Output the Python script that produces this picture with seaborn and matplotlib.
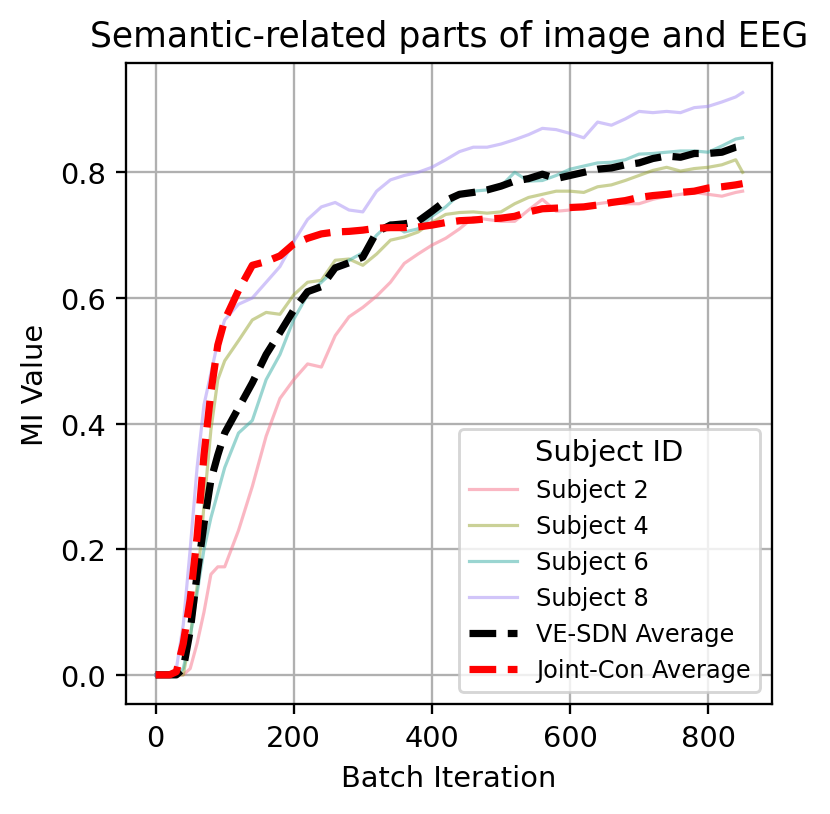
import numpy as np
import pandas as pd
import seaborn as sns
import matplotlib.pyplot as plt

# Batch iterations (shared x grid)
iterations = [0, 10, 20, 30, 40, 50, 60, 70, 80, 90, 100,
              120, 140, 160, 180, 200, 220, 240, 260, 280, 300,
              320, 340, 360, 380, 400, 420, 440, 460, 480, 500,
              520, 540, 560, 580, 600, 620, 640, 660, 680, 700,
              720, 740, 760, 780, 800, 820, 840, 850]

subject_2 = [0, 0, 0, 0, 0, 0.01, 0.05, 0.10, 0.16, 0.172, 0.172,
             0.23, 0.30, 0.38, 0.44, 0.47, 0.495, 0.49, 0.54, 0.57, 0.585,
             0.603, 0.625, 0.655, 0.67, 0.684, 0.695, 0.71, 0.728, 0.725, 0.722,
             0.722, 0.74, 0.757, 0.738, 0.74, 0.746, 0.75, 0.753, 0.75, 0.75,
             0.757, 0.762, 0.765, 0.768, 0.765, 0.762, 0.768, 0.77]

subject_4 = [0, 0, 0, 0, 0, 0.06, 0.14, 0.27, 0.39, 0.47, 0.50,
             0.532, 0.565, 0.577, 0.574, 0.605, 0.625, 0.628, 0.66, 0.662, 0.652,
             0.67, 0.692, 0.697, 0.705, 0.72, 0.733, 0.736, 0.737, 0.735, 0.737,
             0.75, 0.76, 0.765, 0.77, 0.77, 0.768, 0.777, 0.78, 0.787, 0.795,
             0.803, 0.808, 0.802, 0.806, 0.808, 0.812, 0.82, 0.80]

subject_6 = [0, 0, 0, 0, 0.01, 0.06, 0.13, 0.20, 0.25, 0.29, 0.33,
             0.385, 0.405, 0.47, 0.51, 0.566, 0.605, 0.625, 0.645, 0.66, 0.672,
             0.70, 0.72, 0.705, 0.71, 0.73, 0.745, 0.765, 0.77, 0.772, 0.778,
             0.80, 0.786, 0.787, 0.795, 0.805, 0.81, 0.815, 0.816, 0.82, 0.829,
             0.83, 0.832, 0.834, 0.834, 0.832, 0.842, 0.853, 0.855]

subject_8 = [0, 0, 0, 0.01, 0.08, 0.20, 0.33, 0.43, 0.48, 0.53, 0.565,
             0.59, 0.60, 0.625, 0.65, 0.69, 0.725, 0.745, 0.752, 0.74, 0.737,
             0.77, 0.788, 0.795, 0.80, 0.808, 0.82, 0.833, 0.84, 0.84, 0.845,
             0.852, 0.86, 0.87, 0.868, 0.862, 0.855, 0.88, 0.875, 0.885, 0.897,
             0.895, 0.897, 0.895, 0.903, 0.905, 0.912, 0.92, 0.927]

vesdn_avg = [0, 0, 0, 0, 0.01, 0.07, 0.16, 0.24, 0.31, 0.35, 0.385,
             0.425, 0.465, 0.51, 0.545, 0.581, 0.61, 0.618, 0.648, 0.656, 0.665,
             0.705, 0.716, 0.718, 0.722, 0.738, 0.755, 0.765, 0.768, 0.772, 0.778,
             0.786, 0.79, 0.797, 0.79, 0.795, 0.80, 0.805, 0.807, 0.812, 0.815,
             0.822, 0.826, 0.824, 0.83, 0.83, 0.832, 0.84, 0.842]

jointcon_avg = [0, 0, 0, 0.005, 0.05, 0.12, 0.22, 0.35, 0.45, 0.525, 0.565,
                0.612, 0.652, 0.658, 0.667, 0.686, 0.695, 0.702, 0.705, 0.706, 0.708,
                0.711, 0.712, 0.712, 0.713, 0.716, 0.72, 0.723, 0.724, 0.726, 0.727,
                0.73, 0.737, 0.742, 0.743, 0.744, 0.745, 0.748, 0.752, 0.755, 0.76,
                0.763, 0.765, 0.768, 0.77, 0.775, 0.777, 0.78, 0.782]

subjects = {"Subject 2": subject_2, "Subject 4": subject_4,
            "Subject 6": subject_6, "Subject 8": subject_8}

# long-form table for the per-subject curves
rows = []
for name, vals in subjects.items():
    for it, v in zip(iterations, vals):
        rows.append({"Batch Iteration": it, "MI Value": v, "Subject ID": name})
df = pd.DataFrame(rows)

fig, ax = plt.subplots(figsize=(3.995, 3.918), dpi=208)
fig.subplots_adjust(left=0.152, right=0.929, top=0.921, bottom=0.135)

sns.lineplot(data=df, x="Batch Iteration", y="MI Value", hue="Subject ID",
             palette=sns.color_palette("husl", 4), alpha=0.5, linewidth=1.1,
             ax=ax)
sns.lineplot(x=iterations, y=vesdn_avg, color="black", linestyle="--",
             linewidth=2.5, label="VE-SDN Average", ax=ax)
sns.lineplot(x=iterations, y=jointcon_avg, color="red", linestyle="--",
             linewidth=2.5, label="Joint-Con Average", ax=ax)

ax.set_title("Semantic-related parts of image and EEG", fontsize=12)
ax.set_xlabel("Batch Iteration")
ax.set_ylabel("MI Value")
ax.set_xticks([0, 200, 400, 600, 800])
ax.set_yticks([0.0, 0.2, 0.4, 0.6, 0.8])
ax.grid(True)
ax.legend(title="Subject ID", title_fontsize=10, fontsize=8.3, loc="lower right")

plt.savefig("out.png", dpi=208)
plt.close()
